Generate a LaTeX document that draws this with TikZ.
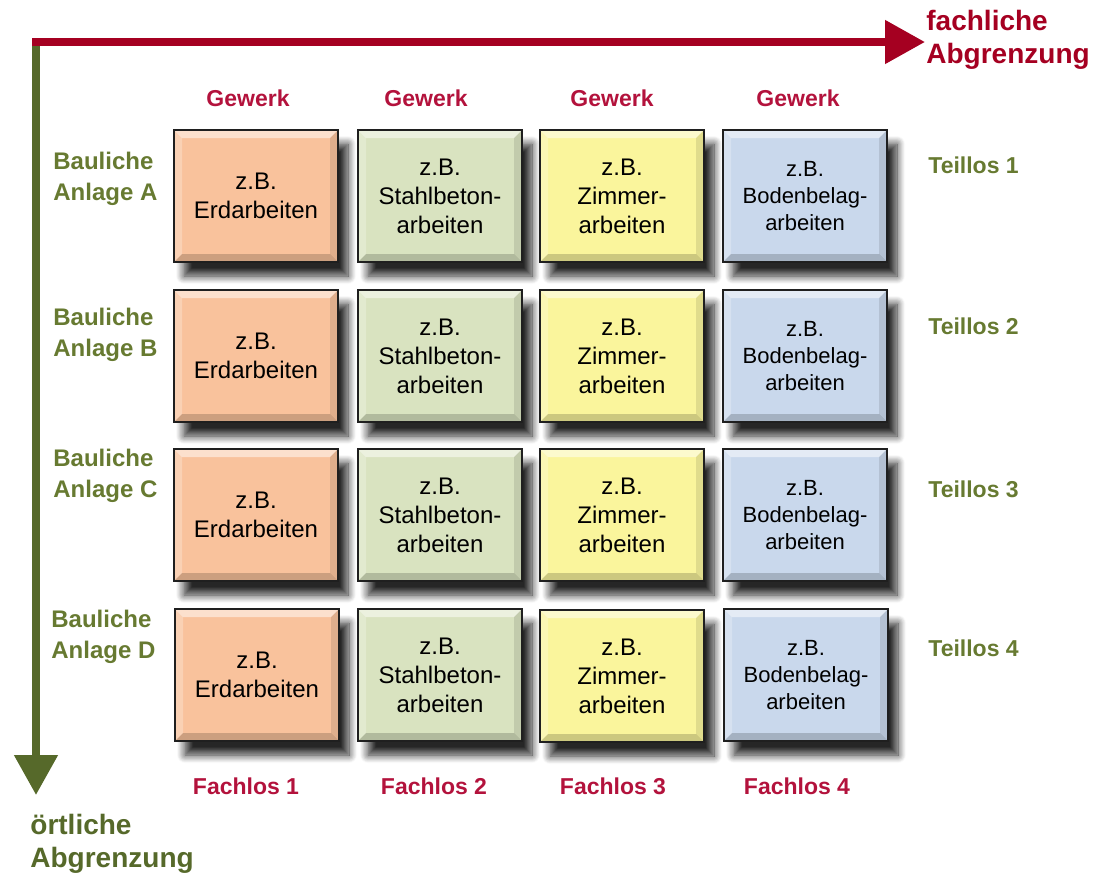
\documentclass[tikz,border=0pt]{standalone}
\usepackage{fontspec}
\setmainfont{Liberation Sans}
\usetikzlibrary{arrows.meta,shadows.blur}
\definecolor{fachrot}{HTML}{A50021}
\definecolor{ortgruen}{HTML}{56692A}
\definecolor{textrot}{HTML}{B3123C}
\definecolor{textgruen}{HTML}{677A31}
\definecolor{erd}{HTML}{F9C29C}
\definecolor{stahl}{HTML}{D9E3C0}
\definecolor{zimmer}{HTML}{FAF59C}
\definecolor{boden}{HTML}{C9D8EC}
\tikzset{
  los/.style={draw=black!88, line width=1.4pt, fill=#1,
    minimum width=82pt, minimum height=66pt, inner sep=0pt,
    align=center, font=\fontsize{12}{14.5}\selectfont,
    blur shadow={shadow xshift=5pt, shadow yshift=-7pt,
      shadow opacity=85, shadow blur radius=4pt, shadow blur steps=10},
    path picture={
      \fill[white,opacity=.5] (path picture bounding box.north west)
        -- (path picture bounding box.north east) -- ++(-4pt,-4pt)
        -- ([shift={(4pt,-4pt)}]path picture bounding box.north west) -- cycle;
      \fill[white,opacity=.25] (path picture bounding box.north west)
        -- (path picture bounding box.south west) -- ++(4pt,4pt)
        -- ([shift={(4pt,-4pt)}]path picture bounding box.north west) -- cycle;
      \fill[black,opacity=.18] (path picture bounding box.south west)
        -- (path picture bounding box.south east) -- ++(-4pt,4pt)
        -- ([shift={(4pt,4pt)}]path picture bounding box.south west) -- cycle;
      \fill[black,opacity=.1] (path picture bounding box.north east)
        -- (path picture bounding box.south east) -- ++(-4pt,4pt)
        -- ([shift={(-4pt,-4pt)}]path picture bounding box.north east) -- cycle;
    }},
  kopf/.style={text=textrot, font=\fontsize{11.5}{14}\selectfont\bfseries},
  zeile/.style={text=textgruen, font=\fontsize{12}{15.5}\selectfont\bfseries,
    align=left, anchor=west, inner sep=0pt},
  achse/.style={text=#1, font=\fontsize{14}{16.5}\selectfont\bfseries,
    align=left, anchor=west, inner sep=0pt}
}
\begin{document}
\begin{tikzpicture}[x=0.5pt,y=-0.5pt]
      \useasboundingbox (0,0) rectangle (1104,879);
      % axes
      \coordinate (ecke) at (36,38);
      \coordinate (links) at (32,42);
      \coordinate (rechts) at (925,42);
      \coordinate (unten) at (36,795);
      \draw[ortgruen, line width=4pt, -{Triangle[length=20pt,width=21pt]}] (ecke) -- (unten);
      \draw[fachrot, line width=4pt, -{Triangle[length=20pt,width=21pt]}] (links) -- (rechts);
      \node[achse=fachrot] (fach) at (926,40) {fachliche\\Abgrenzung};
      \node[achse=ortgruen] (ort) at (30,844) {örtliche\\Abgrenzung};
      % column heads
      \node[kopf] (g1) at (248,98) {Gewerk};
      \node[kopf] (g2) at (426,98) {Gewerk};
      \node[kopf] (g3) at (612,98) {Gewerk};
      \node[kopf] (g4) at (798,98) {Gewerk};
      % row heads
      \node[zeile] (rA) at (53,179) {Bauliche\\Anlage A};
      \node[zeile] (rB) at (53,335) {Bauliche\\Anlage B};
      \node[zeile] (rC) at (53,476) {Bauliche\\Anlage C};
      \node[zeile] (rD) at (51,637) {Bauliche\\Anlage D};
      % lots
      \node[los=erd] (A1) at (256,196) {z.B.\\Erdarbeiten};
      \node[los=stahl] (A2) at (440,196) {z.B.\\Stahlbeton-\\arbeiten};
      \node[los=zimmer] (A3) at (622,196) {z.B.\\Zimmer-\\arbeiten};
      \node[los=boden, font=\fontsize{11}{13.5}\selectfont] (A4) at (805,196) {z.B.\\Bodenbelag-\\arbeiten};
      \node[los=erd] (B1) at (256,356) {z.B.\\Erdarbeiten};
      \node[los=stahl] (B2) at (440,356) {z.B.\\Stahlbeton-\\arbeiten};
      \node[los=zimmer] (B3) at (622,356) {z.B.\\Zimmer-\\arbeiten};
      \node[los=boden, font=\fontsize{11}{13.5}\selectfont] (B4) at (805,356) {z.B.\\Bodenbelag-\\arbeiten};
      \node[los=erd] (C1) at (256,515) {z.B.\\Erdarbeiten};
      \node[los=stahl] (C2) at (440,515) {z.B.\\Stahlbeton-\\arbeiten};
      \node[los=zimmer] (C3) at (622,515) {z.B.\\Zimmer-\\arbeiten};
      \node[los=boden, font=\fontsize{11}{13.5}\selectfont] (C4) at (805,515) {z.B.\\Bodenbelag-\\arbeiten};
      \node[los=erd] (D1) at (257,675) {z.B.\\Erdarbeiten};
      \node[los=stahl] (D2) at (440,675) {z.B.\\Stahlbeton-\\arbeiten};
      \node[los=zimmer] (D3) at (622,676) {z.B.\\Zimmer-\\arbeiten};
      \node[los=boden, font=\fontsize{11}{13.5}\selectfont] (D4) at (806,675) {z.B.\\Bodenbelag-\\arbeiten};
      % partial lots
      \node[zeile, font=\fontsize{11.5}{14}\selectfont\bfseries] (t1) at (928,165) {Teillos 1};
      \node[zeile, font=\fontsize{11.5}{14}\selectfont\bfseries] (t2) at (928,326) {Teillos 2};
      \node[zeile, font=\fontsize{11.5}{14}\selectfont\bfseries] (t3) at (928,489) {Teillos 3};
      \node[zeile, font=\fontsize{11.5}{14}\selectfont\bfseries] (t4) at (928,648) {Teillos 4};
      % trade lots
      \node[kopf] (f1) at (246,786) {Fachlos 1};
      \node[kopf] (f2) at (434,786) {Fachlos 2};
      \node[kopf] (f3) at (613,786) {Fachlos 3};
      \node[kopf] (f4) at (797,786) {Fachlos 4};
    \end{tikzpicture}
\end{document}
